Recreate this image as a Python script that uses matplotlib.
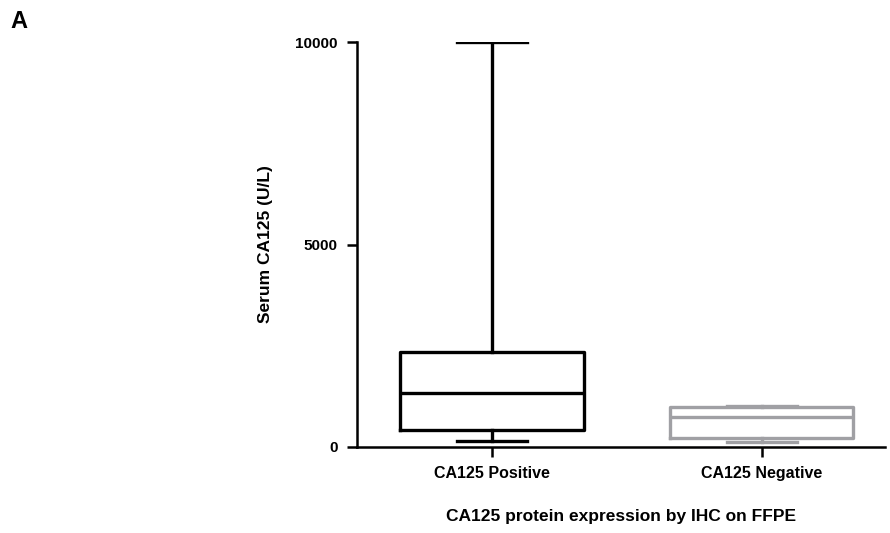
import matplotlib.pyplot as plt

plt.rcParams["font.family"] = ["Liberation Sans", "DejaVu Sans"]
plt.rcParams["font.weight"] = "bold"

groups = ["CA125 Positive", "CA125 Negative"]
mins = [150, 120]
q1s = [420, 230]
medians = [1330, 740]
q3s = [2350, 990]
maxs = [10000, 1000]
colors = ["black", "#a0a0a4"]
yticks = [0, 5000, 10000]

fig = plt.figure(figsize=(8.9, 5.33), dpi=100)
ax = fig.add_axes([0.401, 0.1614, 0.593, 0.7597])

for i, g in enumerate(groups):
    stats = [{"med": medians[i], "q1": q1s[i], "q3": q3s[i], "whislo": mins[i], "whishi": maxs[i], "label": g}]
    c = colors[i]
    lw = 2.4
    ax.bxp(stats, positions=[i], widths=0.68, capwidths=0.26, showfliers=False,
           boxprops=dict(color=c, linewidth=lw),
           medianprops=dict(color=c, linewidth=lw),
           whiskerprops=dict(color=c, linewidth=lw),
           capprops=dict(color=c, linewidth=lw))

ax.set_xlim(-0.5, 1.456)
ax.set_ylim(0, 10000)
ax.set_xticks([0, 1])
ax.set_xticklabels(groups, fontsize=11.5, fontweight="bold")
ax.set_yticks(yticks)
ax.set_yticklabels([str(t) for t in yticks], fontsize=11, fontweight="bold")
ax.tick_params(axis="both", length=7, width=1.8, pad=7)
for s in ["top", "right"]:
    ax.spines[s].set_visible(False)
for s in ["left", "bottom"]:
    ax.spines[s].set_linewidth(1.8)

ax.set_ylabel("Serum CA125 (U/L)", fontsize=12.5, fontweight="bold", labelpad=16)
ax.set_xlabel("CA125 protein expression by IHC on FFPE", fontsize=12.5, fontweight="bold", labelpad=20)

fig.text(0.012, 0.96, "A", fontsize=17, fontweight="bold", va="center")

fig.savefig("out.png", dpi=100)
